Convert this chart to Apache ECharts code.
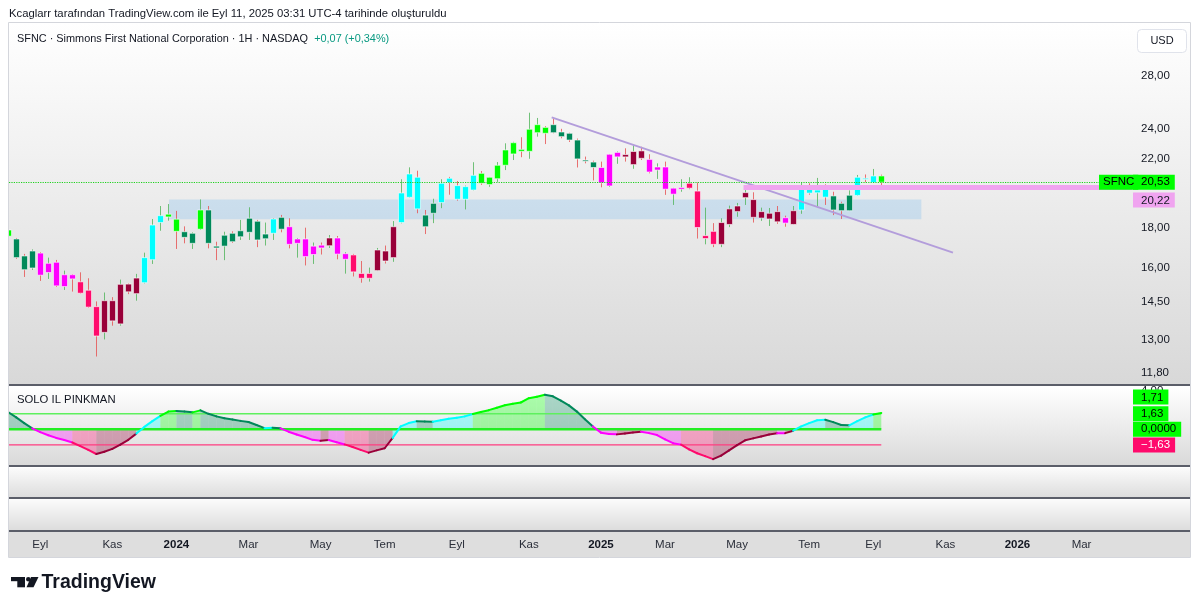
<!DOCTYPE html>
<html><head><meta charset="utf-8">
<script src="https://cdn.jsdelivr.net/npm/echarts@6/dist/echarts.min.js"></script>
<style>html,body{margin:0;padding:0;background:#fff}#c{width:1200px;height:613px}</style>
</head><body><div id="c"></div>
<script>
// ---- data (weekly bars, 2023-08-07 .. 2025-09-08) ----
const opens = [17.55,17.41,16.57,16.00,16.71,15.79,16.27,15.16,15.69,15.37,
15.00,14.30,13.27,14.55,13.60,15.27,14.85,15.33,16.39,18.26,
18.56,18.44,17.78,17.19,17.91,18.94,17.05,17.05,17.70,17.52,
17.75,18.33,17.42,17.70,18.54,18.04,17.19,17.41,16.64,17.10,
17.07,17.46,16.41,16.62,15.75,15.53,15.88,16.81,16.49,18.26,
19.65,20.83,18.66,18.76,19.35,20.77,20.33,19.54,20.07,21.07,
20.39,20.74,21.57,22.29,22.59,22.46,23.71,24.08,24.27,23.76,
23.67,23.21,21.90,21.77,21.43,20.31,22.10,22.25,21.61,22.49,
21.94,21.27,21.46,19.83,20.12,20.18,20.01,17.43,17.80,17.14,
18.16,18.85,19.63,19.52,18.50,18.45,18.85,18.52,18.16,18.94,
20.12,19.91,20.18,19.73,19.31,18.90,19.76,20.77,20.51,20.91];
const closes = [17.87,16.49,15.92,16.81,15.67,16.22,15.19,15.69,15.50,14.87,
14.28,13.13,14.55,13.72,15.26,14.93,15.54,16.49,18.13,18.63,
18.71,17.80,17.49,17.70,18.94,17.19,16.96,17.60,17.27,17.83,
18.49,17.36,17.66,18.45,17.91,17.14,17.41,16.54,17.05,16.96,
17.46,16.66,16.68,15.82,15.53,15.75,16.86,16.33,18.04,19.90,
21.03,19.00,18.04,19.31,20.47,20.51,19.54,20.27,20.95,20.47,
20.83,21.57,22.55,23.03,22.46,23.95,24.27,23.67,23.71,23.44,
23.21,21.97,21.84,21.43,20.49,22.27,22.39,22.10,22.45,22.01,
21.15,21.46,20.12,20.18,20.22,20.47,18.00,17.58,17.14,18.26,
19.00,19.16,19.92,18.54,18.85,18.76,18.30,18.23,18.90,20.33,
19.89,20.07,19.66,18.94,18.90,19.77,20.83,20.71,20.91,20.53];
const lows = [17.45,16.43,15.59,15.91,15.41,15.50,15.14,15.01,14.94,14.85,
14.25,12.37,13.00,13.53,13.53,14.83,14.55,15.30,16.19,17.83,
18.36,16.91,17.19,16.91,17.87,16.94,16.37,16.37,17.21,17.36,
17.36,17.00,17.08,17.36,17.75,16.94,16.49,16.12,16.19,16.64,
16.96,16.41,15.74,15.61,15.33,15.38,15.86,16.21,16.29,18.22,
19.63,18.76,17.66,18.23,19.04,19.80,19.46,18.97,20.05,20.37,
20.26,20.55,21.27,21.90,22.08,21.98,23.44,22.94,23.67,23.33,
23.08,21.43,21.69,20.64,20.23,20.25,21.66,21.80,21.35,21.90,
21.07,20.73,19.79,19.22,19.97,20.12,17.43,17.14,17.00,17.00,
18.02,18.57,19.22,18.26,18.35,18.08,18.19,18.04,18.16,18.73,
19.80,19.16,19.22,18.66,18.45,18.88,19.73,20.53,20.50,20.35];
const highs = [17.95,17.46,16.67,16.89,16.76,16.49,16.38,15.88,15.72,15.80,
15.53,14.52,14.90,14.70,15.47,15.30,15.73,16.73,18.45,19.16,
19.27,18.89,18.06,17.75,19.53,19.16,17.27,17.78,17.80,18.40,
19.09,18.40,18.26,18.49,18.67,18.49,17.46,17.99,17.23,17.23,
17.61,17.56,16.75,16.67,16.33,16.02,16.96,17.08,18.34,20.71,
21.44,21.23,18.94,19.57,20.71,20.85,20.60,20.33,21.76,21.21,
20.85,21.77,22.99,23.09,23.40,25.13,24.75,24.17,24.70,23.98,
23.71,23.31,22.12,21.86,21.80,22.29,22.45,22.66,22.89,22.76,
22.27,21.69,21.80,20.20,20.71,20.83,20.51,19.07,18.23,18.49,
19.18,19.33,20.18,19.94,19.07,19.05,19.16,18.63,19.16,20.51,
20.47,20.79,20.41,19.97,19.40,20.05,20.97,21.00,21.34,20.99];
// indicator state per bar: G bright green, D dark green, Y cyan, M magenta, C crimson, R maroon
const barStates = ('G'+'DDD'+'MMMMM'+'CCC'+'RRRRR'+'YYY'+'GG'+'DD'+'G'+'DDDDDDDD'+'Y'+'D'+'MMMMM'+'R'+'MM'+'CCC'+'RRR'+'YYY'+'DD'+'YYYYY'+'GGGGGGGGG'+'DDDDDD'+'MMM'+'RRR'+'MMMMM'+'CCCC'+'RRRRRRRR'+'M'+'R'+'YYYY'+'DDD'+'YYY'+'G').split('');
const oscValues = [1.80,1.25,0.65,0.10,-0.30,-0.62,-0.90,-1.12,-1.38,-1.75,
-2.15,-2.58,-2.35,-2.05,-1.60,-1.10,-0.45,0.25,0.85,1.40,
1.85,1.92,1.85,1.77,1.98,1.62,1.35,1.15,1.02,0.88,
0.76,0.45,0.12,0.15,0.10,-0.25,-0.55,-0.80,-1.10,-1.20,
-1.12,-1.35,-1.58,-1.85,-2.15,-2.44,-2.20,-1.98,-0.90,0.30,
0.65,0.85,0.82,0.78,0.95,1.10,1.20,1.35,1.60,1.80,
2.00,2.25,2.52,2.68,2.80,3.25,3.40,3.60,3.45,3.00,
2.50,1.85,1.05,0.30,-0.35,-0.50,-0.53,-0.45,-0.33,-0.25,
-0.40,-0.60,-1.05,-1.45,-1.60,-2.10,-2.50,-2.80,-3.12,-2.75,
-2.20,-1.65,-1.15,-0.95,-0.75,-0.55,-0.42,-0.40,-0.15,0.30,
0.65,0.95,1.00,0.75,0.45,0.42,0.85,1.25,1.55,1.71];
const priceTicks = [28, 24, 22, 18, 16, 14.5, 13, 11.8];
const xTickIdx = [4,13,21,30,39,47,56,65,74,82,91,100,108,117,126,134];
const xTickLabels = ['Eyl','Kas','2024','Mar','May','Tem','Eyl','Kas','2025','Mar','May','Tem','Eyl','Kas','2026','Mar'];
const lastPrice = 20.53;
const supportLevel = 20.22;
const oscLevels = [1.63, 0, -1.63];
const oscLast = 1.71;
const zoneBox = [20.07, 114.0, 18.44, 19.52];      // bar from, bar to, price low, price high
const trendLine = [67.85, 24.79, 117.95, 16.73];   // bar, price, bar, price

// ---- chart ----
const FONT = "'Liberation Sans', Arial, sans-serif";
const X_MIN = 0.1, X_MAX = 147.54, X_END = 140.3, LAST_BAR = closes.length - 1;
const ln = Math.log;
const stateColor = {G:'#00ff00', D:'#00895a', Y:'#00ffff', M:'#ff00ff', C:'#ff0a6c', R:'#990039'};
const levelStyle = [{c:'#5ef05e', w:1.5}, {c:'#22ee22', w:2.5}, {c:'#ff3d80', w:1.2}];
function rgba(hex, a){const n=parseInt(hex.slice(1),16);return 'rgba('+(n>>16)+','+((n>>8)&255)+','+(n&255)+','+a+')';}
const fmt2 = v => v.toFixed(2).replace('.', ',');
const grad = (a, b) => ({type:'linear', x:0, y:0, x2:0, y2:1, colorStops:[{offset:0,color:a},{offset:1,color:b}]});

const candleData = closes.map((c, i) => [i, ln(opens[i]), ln(c), ln(lows[i]), ln(highs[i]), i]);
const oscData = oscValues.map((v, i) => [i, v, i > 0 ? oscValues[i-1] : v, i]);
const levelData = oscLevels.map((v, k) => [k, v]);

function renderCandle(params, api) {
  const i = api.value(0), o = api.value(1), c = api.value(2), l = api.value(3), h = api.value(4);
  const st = barStates[api.value(5)];
  const pO = api.coord([i, o]), pC = api.coord([i, c]), pL = api.coord([i, l]), pH = api.coord([i, h]);
  const w = api.size([1, 0])[0] * 0.76;
  const up = c >= o;
  const xc = Math.round(pO[0]) + 0.5;
  const top = Math.min(pO[1], pC[1]), bot = Math.max(pO[1], pC[1]);
  return {type:'group', children:[
    {type:'line', shape:{x1:xc, y1:pH[1], x2:xc, y2:pL[1]}, style:{stroke: up ? 'rgba(80,180,90,0.8)' : 'rgba(230,80,80,0.8)', lineWidth:1}},
    {type:'rect', shape:{x:xc - w/2, y:top, width:w, height:Math.max(bot-top, 1.2)}, style:{fill:stateColor[st], stroke:'rgba(255,255,255,0.75)', lineWidth:0.8}}
  ]};
}
function renderOscFill(params, api) {
  const i = api.value(0); if (i === 0) return null;
  const v = api.value(1), vp = api.value(2), st = barStates[api.value(3)];
  const a = api.coord([i-1, vp]), b = api.coord([i, v]), bz = api.coord([i, 0]), az = api.coord([i-1, 0]);
  return {type:'polygon', shape:{points:[a, b, bz, az]}, style:{fill: rgba(stateColor[st], 0.32)}};
}
function renderOscLine(params, api) {
  const i = api.value(0); if (i === 0) return null;
  const v = api.value(1), vp = api.value(2), st = barStates[api.value(3)];
  const a = api.coord([i-1, vp]), b = api.coord([i, v]);
  return {type:'line', shape:{x1:a[0], y1:a[1], x2:b[0], y2:b[1]}, style:{stroke: stateColor[st], lineWidth:2, lineCap:'round'}};
}
function renderLevel(params, api) {
  const k = api.value(0), v = api.value(1);
  const a = api.coord([X_MIN, v]), b = api.coord([LAST_BAR, v]);
  return {type:'line', shape:{x1:a[0], y1:a[1], x2:b[0], y2:b[1]}, style:{stroke: levelStyle[k].c, lineWidth: levelStyle[k].w}};
}

const gridBase = {left:9, right:10, show:true, borderWidth:0, outerBoundsMode:'none', containLabel:false};
const grids = [
  Object.assign({top:23, height:362, backgroundColor: grad('#ffffff', '#d8d8d8')}, gridBase),
  Object.assign({top:387, height:79, backgroundColor: grad('#ffffff', '#d9d9d9')}, gridBase),
  Object.assign({top:468, height:30, backgroundColor: grad('#fbfbfb', '#dcdcdc')}, gridBase),
  Object.assign({top:499.5, height:31, backgroundColor: grad('#fbfbfb', '#dcdcdc')}, gridBase)
];
const xAxes = grids.map((g, k) => ({
  type:'value', gridIndex:k, min:X_MIN, max:X_MAX,
  axisLine:{show:true, onZero:false, lineStyle:{color:'#5b5e69', width:2}},
  axisTick:{show:false}, splitLine:{show:false},
  axisLabel: k === 3 ? {
    show:true, customValues:xTickIdx, margin:8, color:'#2a2e39', fontSize:11.5, fontFamily:FONT,
    formatter: v => { const s = xTickLabels[xTickIdx.indexOf(Math.round(v))] || ''; return /^\d{4}$/.test(s) ? '{y|' + s + '}' : s; },
    rich:{y:{fontWeight:'bold', color:'#131722', fontSize:11.5, fontFamily:FONT}}
  } : {show:false}
}));
const yAxes = [
  {type:'value', gridIndex:0, position:'right', min:2.4325, max:3.48482,
   axisLine:{show:false}, axisTick:{show:false}, splitLine:{show:false},
   axisLabel:{inside:true, align:'left', margin:49, customValues: priceTicks.map(ln),
     formatter: v => fmt2(Math.exp(v)), color:'#131722', fontSize:11.5, fontFamily:FONT}},
  {type:'value', gridIndex:1, position:'right', min:-3.835, max:4.42,
   axisLine:{show:false}, axisTick:{show:false}, splitLine:{show:false},
   axisLabel:{inside:true, align:'left', margin:49, customValues:[4],
     formatter: v => fmt2(v), color:'#131722', fontSize:11.5, fontFamily:FONT}},
  {type:'value', gridIndex:2, show:false, min:0, max:1},
  {type:'value', gridIndex:3, show:false, min:0, max:1}
];

const boxLabel = (txt, bg, fg, extra) => Object.assign({show:true, position:'end', distance:1, formatter:txt, opacity:1,
  backgroundColor:bg, color:fg, padding:[2,5,1,8], fontSize:11.5, fontFamily:FONT}, extra || {});
const shiftedLabel = (txt, bg, fg, shift) => ({show:true, position:'end', distance:1, opacity:1,
  formatter: shift > 0 ? '{s| }\n{t|' + txt + '}' : '{t|' + txt + '}\n{s| }',
  rich:{s:{lineHeight:Math.abs(shift)*2, fontSize:1},
        t:{backgroundColor:bg, color:fg, padding:[2,5,1,8], fontSize:11.5, fontFamily:FONT, lineHeight:15}}});
const hidden = {color:'rgba(0,0,0,0)', width:0, opacity:1};

const series = [
  {type:'line', xAxisIndex:0, yAxisIndex:0, data:[], silent:true,
   markArea:{silent:true, itemStyle:{color:'rgba(33,150,243,0.16)'},
     data:[[{xAxis:zoneBox[0], yAxis:ln(zoneBox[3])}, {xAxis:zoneBox[1], yAxis:ln(zoneBox[2])}]]}},
  {type:'custom', name:'SFNC', xAxisIndex:0, yAxisIndex:0, clip:true, renderItem:renderCandle,
   encode:{x:0, y:[1,2,3,4]}, data:candleData},
  {type:'line', xAxisIndex:0, yAxisIndex:0, data:[], silent:true,
   markLine:{silent:true, symbol:['none','none'], animation:false, data:[
     [{xAxis:trendLine[0], yAxis:ln(trendLine[1]), lineStyle:{color:'#b39ddb', width:2, type:'solid'}, label:{show:false}},
      {xAxis:trendLine[2], yAxis:ln(trendLine[3])}],
     [{xAxis:91.8, yAxis:ln(supportLevel), lineStyle:{color:'#f0a4f0', width:5, type:'solid'},
       label: shiftedLabel(fmt2(supportLevel), '#f0a4f0', '#131722', 12.5)},
      {xAxis:X_END, yAxis:ln(supportLevel)}],
     [{xAxis:X_MIN, yAxis:ln(lastPrice), lineStyle:{color:'#1fd11f', width:1.2, type:'dotted'},
       label: boxLabel(fmt2(lastPrice), '#00ff00', '#000')},
      {xAxis:X_END, yAxis:ln(lastPrice)}],
     [{xAxis:X_MIN, yAxis:ln(lastPrice), lineStyle:hidden,
       label: boxLabel('SFNC', '#00ff00', '#000', {distance:-33, padding:[2,4,1,4]})},
      {xAxis:X_END, yAxis:ln(lastPrice)}]
   ]}},
  {type:'custom', xAxisIndex:1, yAxisIndex:1, clip:true, silent:true, renderItem:renderOscFill,
   encode:{x:0, y:1}, data:oscData},
  {type:'custom', xAxisIndex:1, yAxisIndex:1, clip:true, silent:true, renderItem:renderLevel,
   encode:{y:1}, data:levelData},
  {type:'custom', name:'SOLO IL PINKMAN', xAxisIndex:1, yAxisIndex:1, clip:true, silent:true, renderItem:renderOscLine,
   encode:{x:0, y:1}, data:oscData},
  {type:'line', xAxisIndex:1, yAxisIndex:1, data:[], silent:true,
   markLine:{silent:true, symbol:['none','none'], animation:false, data:[
     [{xAxis:X_MIN, yAxis:oscLast, lineStyle:hidden, label: shiftedLabel(fmt2(oscLast), '#00ff00', '#000', -16)}, {xAxis:X_END, yAxis:oscLast}],
     [{xAxis:X_MIN, yAxis:oscLevels[0], lineStyle:hidden, label: boxLabel(fmt2(oscLevels[0]), '#00ff00', '#000')}, {xAxis:X_END, yAxis:oscLevels[0]}],
     [{xAxis:X_MIN, yAxis:oscLevels[1], lineStyle:hidden, label: boxLabel('0,0000', '#00ff00', '#000')}, {xAxis:X_END, yAxis:oscLevels[1]}],
     [{xAxis:X_MIN, yAxis:oscLevels[2], lineStyle:hidden, label: boxLabel('\u2212' + fmt2(-oscLevels[2]), '#ff0a6c', '#fff')}, {xAxis:X_END, yAxis:oscLevels[2]}]
   ]}}
];

const txt = (x, y, text, extra) => ({type:'text', x, y, silent:true, z:20,
  style:Object.assign({text, fontSize:11.5, fontFamily:FONT, fill:'#131722', verticalAlign:'middle', align:'left'}, extra || {})});
const graphic = [
  {type:'rect', z:-5, silent:true, shape:{x:9, y:531.5, width:1181, height:25.5}, style:{fill:'#dedede'}},
  {type:'rect', z:30, silent:true, shape:{x:8.5, y:22.5, width:1182, height:535}, style:{fill:'none', stroke:'#d4d6dc', lineWidth:1}},
  txt(9, 14, 'Kcaglarr tarafından TradingView.com ile Eyl 11, 2025 03:31 UTC-4 tarihinde oluşturuldu', {fontSize:11.3}),
  {type:'text', x:17, y:39, silent:true, z:20, style:{text:'{a|SFNC · Simmons First National Corporation · 1H · NASDAQ}{b|  +0,07 (+0,34%)}',
    verticalAlign:'middle', rich:{a:{fontSize:10.9, fontFamily:FONT, fill:'#131722'}, b:{fontSize:10.9, fontFamily:FONT, fill:'#089981'}}}},
  {type:'rect', z:20, silent:true, shape:{x:1137.5, y:29.5, width:49, height:23, r:4}, style:{fill:'#ffffff', stroke:'#e0e3eb', lineWidth:1}},
  txt(1162, 41, 'USD', {align:'center', fontSize:11}),
  txt(17, 400, 'SOLO IL PINKMAN', {fontSize:11.3}),
  // TradingView logo
  {type:'group', silent:true, z:20, children:[
    {type:'rect', shape:{x:11, y:577, width:14, height:4.2}, style:{fill:'#131722'}},
    {type:'rect', shape:{x:17.3, y:577, width:7.7, height:10.3}, style:{fill:'#131722'}},
    {type:'circle', shape:{cx:28.3, cy:579.2, r:2.3}, style:{fill:'#131722'}},
    {type:'polygon', shape:{points:[[31,577],[38.5,577],[33.5,587.3],[26.5,587.3]]}, style:{fill:'#131722'}}
  ]},
  txt(41.5, 582.5, 'TradingView', {fontSize:19.5, fontWeight:'bold'})
];

const chart = echarts.init(document.getElementById('c'), null, {renderer:'canvas'});
chart.setOption({animation:false, backgroundColor:'#ffffff', textStyle:{fontFamily:FONT},
  grid:grids, xAxis:xAxes, yAxis:yAxes, series, graphic, tooltip:{show:false}});
</script></body></html>
